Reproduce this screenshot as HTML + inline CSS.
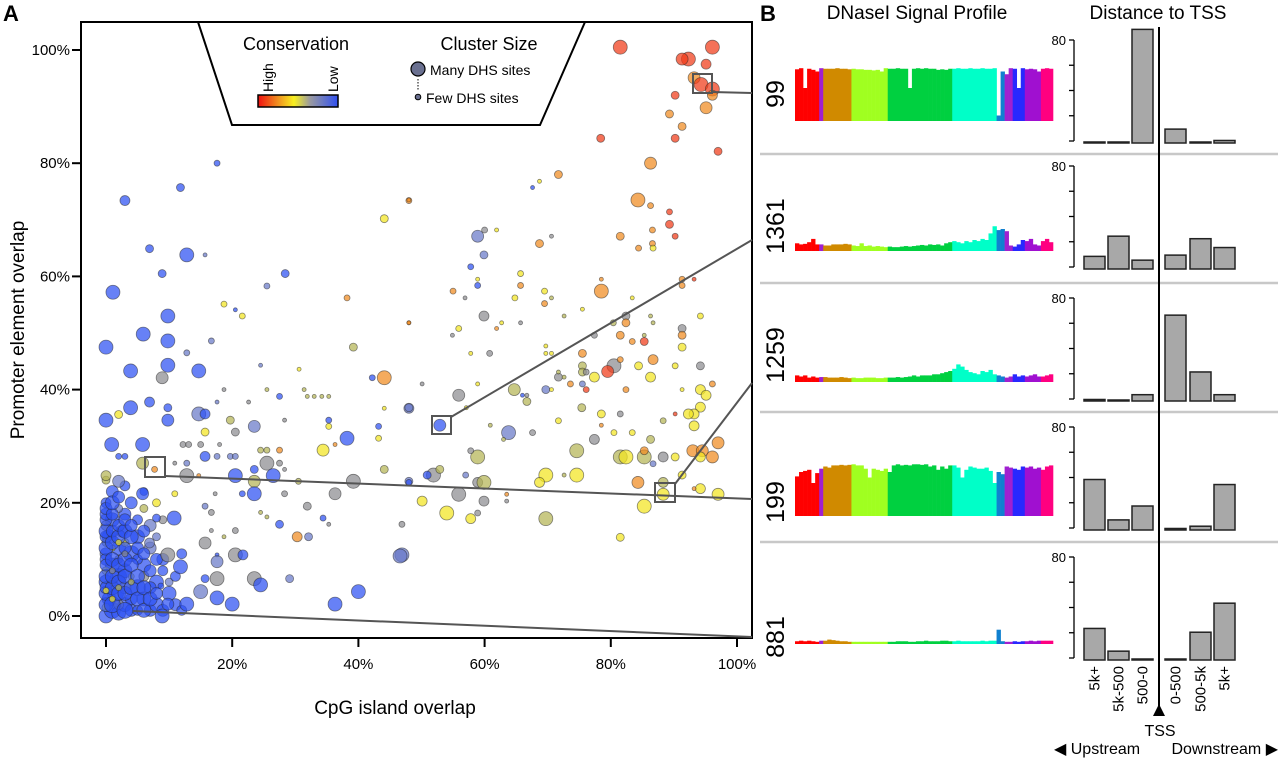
<!DOCTYPE html>
<html><head><meta charset="utf-8">
<style>
html,body{margin:0;padding:0;background:#fff;}
svg{display:block;font-family:"Liberation Sans",Arial,sans-serif;}
</style></head>
<body>
<svg id="fig" width="1280" height="758" viewBox="0 0 1280 758" xmlns="http://www.w3.org/2000/svg">
  <text x="3" y="21" font-size="22" font-weight="bold">A</text>
  <text x="760" y="21" font-size="22" font-weight="bold">B</text>
  <g id="scatter"></g>
  <rect x="81" y="22" width="671" height="616" fill="none" stroke="#000" stroke-width="2"/>
  <g id="axes"></g>
  <text x="395" y="714" font-size="19" text-anchor="middle">CpG island overlap</text>
  <text transform="translate(24,330) rotate(-90)" font-size="19" text-anchor="middle">Promoter element overlap</text>
  <g>
    <polygon points="198,22 585,22 540,125 232,125" fill="#fff" stroke="#000" stroke-width="2"/>
    <text x="296" y="50" font-size="18" text-anchor="middle">Conservation</text>
    <text transform="translate(273,92) rotate(-90)" font-size="14">High</text>
    <text transform="translate(338,92) rotate(-90)" font-size="14">Low</text>
    <defs><linearGradient id="cg" x1="0" x2="1" y1="0" y2="0">
      <stop offset="0" stop-color="#f01010"/><stop offset="0.25" stop-color="#f09020"/><stop offset="0.45" stop-color="#f8f020"/><stop offset="0.65" stop-color="#9a9aa0"/><stop offset="1" stop-color="#3050f0"/></linearGradient></defs>
    <rect x="258" y="95" width="80" height="12" fill="url(#cg)" stroke="#000" stroke-width="1.5"/>
    <text x="489" y="50" font-size="18" text-anchor="middle">Cluster Size</text>
    <circle cx="418" cy="69" r="7" fill="#6a7090" stroke="#000" stroke-width="1.2"/>
    <text x="430" y="75" font-size="14">Many DHS sites</text>
    <line x1="418" y1="79" x2="418" y2="91" stroke="#000" stroke-dasharray="1.5,1.5"/>
    <circle cx="418" cy="97" r="2.8" fill="#6a7090" stroke="#000" stroke-width="1"/>
    <text x="426" y="103" font-size="14">Few DHS sites</text>
  </g>
  <g id="connectors"></g>
  <g id="panelB"></g>
  <text x="917" y="19" font-size="19" text-anchor="middle">DNaseI Signal Profile</text>
  <text x="1158" y="19" font-size="19" text-anchor="middle">Distance to TSS</text>
</svg>
<script>
// ---------- Panel A data ----------
const xTicks = [0, 20, 40, 60, 80, 100];
const yTicks = [0, 20, 40, 60, 80, 100];
const colorCodes = ["#f03a18", "#f08a20", "#f2e420", "#b4b454", "#8c8c90", "#6878c8", "#2c50f2"];
// each point: [CpG %, promoter %, radius, conservation class]
const points = [
[0,0,7,6],[1,1,8,6],[2,0.5,7,6],[0.5,3,7,6],[1.5,4,8,6],[3,2,7,6],[4,1,6,6],[0,6,7,6],[2,7,8,6],[1,9,7,6],[3,8,7,6],[5,5,8,6],[6,3,7,6],[7,1,6,6],[0,11,6,6],[2,12,7,6],[4,11,8,6],[6,9,7,6],[8,6,7,6],[0.5,14,7,6],[2.5,15,6,6],[1,17,7,6],[3,18,6,6],[0,20,5,6],[5,14,7,6],[7,12,6,5],[9,10,6,6],[10,4,7,6],[11,2,6,6],[8,2,7,6],[3,5,6,4],[1,6,4,3],[0,8,4,2],[4,7,3,2],[2,10,4,4],[6,7,5,4],[0,13,4,3],[3,13,4,2],[5,17,5,6],[7,16,6,5],[4,20,6,6],[1,22,6,6],[0,16,5,4],[6,19,4,3],[8,14,4,5],[2,2,5,4],[0,1.5,4,2],[1,12,3,2],[9,8,5,6],[10,6,4,5],[5,10,5,6],[3,23,5,6],[6,22,4,6],[8,20,4,2],[9,17,4,4],[0,24,4,3],[2,19,4,5],[7,5,6,6],[4,3,6,6],[0,10,6,6],[5,1,5,6],[9,1,6,6],[12,1,5,6],[11,7,5,6],[12,11,5,6],
[0,2,7,6],[0,4,7,6],[0,5,6,6],[0,7,7,6],[0,9,6,6],[0,12,7,6],[0,14,6,6],[0,15,7,6],[0,17,6,6],[0,18,6,6],[0,19,6,6],[1,2,8,6],[1,5,7,6],[1,7,7,6],[1,10,7,6],[1,13,7,6],[1,15,6,6],[1,18,6,6],[1,20,7,6],[2,4,7,6],[2,6,7,6],[2,9,7,6],[2,14,7,6],[2,16,6,6],[2,21,6,6],[3,1,8,6],[3,4,7,6],[3,7,7,6],[3,10,7,6],[3,12,6,6],[3,15,7,6],[3,17,6,6],[4,5,7,6],[4,9,7,6],[4,14,7,6],[4,16,6,6],[5,3,7,6],[5,7,7,6],[5,12,6,6],[6,1,7,6],[6,5,7,6],[6,11,6,6],[6,15,6,6],[7,3,7,6],[7,8,6,6],[8,4,6,6],[8,10,6,6],[1,3,3,2],[2,5,3,3],[0,4.5,3,2],[1,8,3,4],[2,13,3,2],[4,6,3,3],[3,11,3,4],
[17.6,80,3,6],[11.8,75.7,4,6],[3,73.4,5,6],[6.9,64.9,4,6],[12.8,63.8,7,6],[15.7,63.8,2,5],[8.9,60.5,4,6],[28.4,60.5,4,6],[25.5,58.3,3,5],[1.1,57.2,7,6],[18.7,55.1,3,2],[20.5,54.1,2,6],[21.6,53,3,2],[9.8,53,7,6],[5.9,49.8,7,6],[0,47.5,7,6],[9.8,48.6,7,6],[12.8,46.5,3,5],[16.7,48.6,3,5],[3.9,43.3,7,6],[9.8,44.3,7,6],[14.7,43.3,7,6],[8.9,42.1,6,4],[24.5,44.3,2,5],[30.6,43.6,2,2],[38.2,56.2,3,1],[48,73.4,3,1],[48,51.8,2,1],[44.1,70.2,4,2],[39.2,47.5,4,3],[44.1,42.1,7,1],[42.2,42.1,3,6],[48,36.7,5,5],[44.1,36.7,2,2],[43.2,33.5,3,6],[43.2,31.4,3,2],[38.2,31.4,7,6],[34.4,29.3,6,2],[36.3,30.3,2,1],[35.3,34.6,3,6],[35.3,33.5,3,2],[27.5,38.8,3,6],[31.4,40,2,3],[31.9,38.8,2,3],[33,38.8,2,3],[34.2,38.8,2,3],[35.3,38.8,2,3],[18.7,40,2,4],[25.5,40,2,3],[22.6,37.8,2,4],[17.6,37.8,2,5],[3.9,36.8,7,6],[6.9,37.8,5,6],[9.8,36.8,4,6],[14.7,35.7,7,5],[15.7,35.7,5,6],[0,34.6,7,6],[2,35.6,4,2],[9.8,34.6,6,6],[19.7,34.6,4,3],[23.5,33.5,6,5],[28.3,34.6,2,4],[15.7,32.5,4,2],[20.5,32.5,4,4],[0.9,30.3,7,6],[5.8,30.3,7,6],[12.2,30.3,3,4],[13.1,30.3,3,4],[15,30.3,3,4],[18,30.3,2,4],[15.7,28.2,5,6],[3,28.2,3,6],[2,28.2,3,6],[5.8,27,6,3],[7.7,25.9,3,1],[12.8,27,3,5],[10.9,27,2,4],[17.6,28.2,3,5],[19.7,28.2,3,5],[20.5,28.2,3,5],[25.5,27,7,4],[27.5,27,3,4],[24.5,29.3,3,3],[25.5,29.3,3,3],[27.5,29.3,3,1],[0,24.8,5,3],[2,23.8,6,5],[12.8,24.8,7,4],[14.7,24.8,2,1],[20.5,24.8,7,6],[23.5,25.9,4,6],[26.5,24.8,7,6],[28.3,25.9,2,4],[23.5,23.8,6,3],[30.5,23.8,3,3],[39.2,23.8,7,4],[44.1,25.9,4,3],[48,23.8,4,5],[23.5,21.6,7,6],[21.6,21.6,3,6],[28.3,21.6,3,4],[36.3,21.6,6,4],[17.3,21.6,2,4],[10.9,21.6,3,2],[5.8,21.6,6,6],[31.9,19.4,4,4],[15.7,19.4,3,5],[16.7,18.3,3,4],[24.5,18.3,2,3],[25.5,17.5,2,3],[10.8,17.3,7,6],[8,17.3,4,6],[34.4,17.3,3,6],[35.3,16.2,2,4],[46.9,16.2,3,4],[27.5,16.2,4,6],[20.5,15.1,3,4],[16.7,15.1,2,4],[30.3,14,5,1],[32.1,14,4,5],[18.7,14,2,3],[15.7,12.9,6,4],[6.9,12.9,5,5],[20.5,10.8,7,4],[21.7,10.8,5,6],[17.6,10.8,2,6],[11.8,8.7,7,6],[9.8,10.8,7,4],[17.6,9.6,6,5],[46.9,10.8,7,5],[17.6,6.6,7,4],[15.7,6.6,4,6],[23.5,6.6,7,4],[24.5,5.5,7,6],[29.1,6.6,4,5],[15,4.3,7,5],[40,4.3,7,6],[36.3,2.1,7,6],[20,2.1,7,6],[17.6,3.2,7,6],[12.8,2.1,7,6],[8.9,0,7,6],[9.8,2.1,6,6],[8.7,5.3,3,6],
[81.5,100.5,7,0],[96.1,100.5,7,0],[92.3,98.4,7,0],[91.3,98.4,6,0],[95.1,97.5,5,0],[93.2,95.1,6,1],[94.3,93.9,7,0],[96.1,93.1,7,0],[96.1,92,5,1],[95.1,89.8,6,1],[90.2,92,4,0],[89.3,88.7,4,1],[91.3,86.5,4,1],[90.2,84.4,4,0],[97,82.1,4,0],[78.4,84.4,4,0],[86.3,80,6,1],[84.3,73.5,7,1],[86.3,72.5,3,1],[89.3,71.4,3,0],[89.3,69.2,4,0],[71.7,78,4,1],[68.7,76.8,2,2],[67.6,75.7,2,6],[48,73.5,2,1],[86.6,68.2,3,1],[86.6,65.8,3,1],[90.2,67.1,3,0],[81.5,67.1,4,1],[84.4,65,3,1],[86.7,65,3,2],[58.9,67.1,6,5],[60,68.2,3,4],[61.9,68.2,2,2],[70.6,67.1,2,4],[68.7,65.8,4,1],[59.9,63.8,4,5],[57.8,61.7,3,6],[58.9,59.5,2,2],[58.9,58.4,3,6],[55,57.4,3,1],[56.9,56.2,2,4],[65.7,60.5,3,2],[65.7,58.4,3,1],[64.8,56.2,3,2],[69.5,57.4,3,2],[69.5,55.2,3,1],[70.6,56.2,2,3],[78.5,59.5,2,1],[78.5,57.4,7,1],[83.4,56.2,2,2],[91.3,59.5,3,1],[91.3,58.4,3,1],[93.2,59.5,2,0],[75.5,54.2,2,2],[72.6,53,2,3],[59.9,53,5,4],[48,51.8,2,1],[65.7,51.8,2,4],[61.9,50.8,2,1],[55.9,50.8,3,2],[54.9,49.6,2,4],[62.7,51.8,2,2],[82.4,53,4,4],[82.4,51.8,4,1],[80.4,51.8,3,3],[86.3,53,2,3],[86.7,51.8,2,3],[94.2,53,3,2],[91.3,50.8,4,4],[91.3,49.6,4,1],[81.5,49.6,4,1],[83.4,48.5,3,1],[85.3,48.5,4,0],[85.3,49.6,2,3],[91.3,47.5,4,2],[77.4,49.6,3,4],[69.7,47.7,2,2],[69.7,46.4,2,2],[70.6,46.4,2,2],[75.5,46.4,4,1],[57.8,46.4,2,2],[60.8,46.4,3,4],[80.5,44.2,7,4],[79.5,43.2,6,0],[81.5,45.3,3,1],[84.4,44.2,4,2],[86.3,42.2,5,2],[86.7,45.3,5,1],[90.2,44.2,3,2],[94.2,44.2,4,4],[96.1,41,3,1],[75.5,44.2,4,3],[75.5,43.1,4,3],[76.1,43.1,3,4],[77.4,42.2,5,2],[71.7,42.2,4,4],[71.7,43.1,2,3],[72.6,42.2,2,3],[73.6,41,3,1],[75.5,41,3,5],[76.1,40,3,0],[69.7,40,4,5],[70.6,40,2,2],[82.4,40,3,1],[91.3,40,2,2],[94.2,40,5,2],[95.1,39,5,2],[94.2,36.9,5,2],[93.2,35.7,5,2],[92.3,35.7,5,2],[93.2,33.6,5,2],[55.9,39,6,4],[64.7,40,6,3],[66.7,37.9,4,3],[66,39,2,6],[66.7,39,2,4],[50.1,41,2,4],[58.9,41,2,2],[48,36.8,4,5],[57.1,36.8,2,2],[75.4,36.8,4,3],[78.5,35.7,4,2],[81.5,35.7,3,4],[71.7,34.5,3,2],[90.2,35.7,2,0],[88.3,34.5,3,3],[78.5,33.7,2,1],[80.5,32.4,3,2],[83.4,32.4,3,2],[77.4,31.2,5,4],[86.3,31.2,4,3],[67.6,32.4,3,4],[63.8,32.4,7,5],[63,31.2,2,3],[60.9,33.7,2,3],[52.9,33.7,6,6],[74.6,29.2,7,3],[81.5,28.1,7,3],[82.4,28.1,7,2],[85.3,28.1,7,3],[85.3,29.2,4,1],[88.3,28.1,5,4],[90.2,28.1,4,2],[93,29.2,6,1],[94.5,29.2,6,1],[96.1,28.1,6,1],[97,30.6,6,1],[94.2,28.1,5,2],[86.7,26.9,3,5],[91.3,24.9,4,2],[58.9,28.1,7,3],[57.8,29.2,3,4],[51.9,24.9,7,4],[52.9,25.9,4,3],[50.9,24.9,4,6],[48,23.6,3,6],[57,24.9,3,5],[58.9,23.6,5,4],[59.9,23.6,7,3],[69.7,24.9,7,2],[68.7,23.6,5,2],[74.6,24.9,7,2],[72.6,24.9,2,3],[84.3,23.6,6,1],[88.3,23.6,5,3],[88.3,21.5,6,2],[94.2,22.5,5,2],[93.2,22.5,2,1],[97,21.5,6,2],[50.1,20.3,5,2],[55.9,21.5,7,4],[59.9,20.3,5,4],[63.5,21.5,2,1],[63.5,20.3,2,4],[54,18.2,7,2],[57.8,17.2,5,2],[58.9,18.2,3,4],[69.7,17.2,7,3],[85.3,19.4,7,2],[81.5,13.9,4,2],[46.6,10.6,7,5]
];
// ---------- Panel B data ----------
const clusterIds = ["99", "1361", "1259", "199", "881"];
const distCategories = ["5k+", "5k-500", "500-0", "0-500", "500-5k", "5k+"];
const distValues = [
  [0.8, 0.8, 90, 11, 0.3, 2],
  [10, 26, 7, 11, 24, 17],
  [1.2, 0.6, 5, 68, 23, 5],
  [40, 8, 19, 1.2, 3, 36],
  [25, 7, 0.5, 0.5, 22, 45]
];
const profile99 = [94,96,60,95,93,90,96,95,95,95,96,95,95,94,95,94,94,93,93,92,93,90,96,95,95,96,95,95,60,95,96,95,96,95,95,93,94,93,95,95,96,95,95,96,95,95,96,95,95,96,10,90,85,96,95,60,96,94,95,94,90,95,96,95];
const profile1361 = [14,12,13,16,22,12,12,10,10,12,12,12,13,12,10,9,14,9,10,8,9,8,7,8,7,7,8,9,8,9,10,11,10,12,11,12,10,14,16,18,16,14,18,16,20,18,22,20,32,45,38,40,36,10,8,12,20,18,22,12,10,18,22,16];
const profile1259 = [12,10,12,8,10,8,9,9,8,8,8,9,8,7,8,7,7,8,8,8,7,7,8,8,8,9,8,9,10,12,10,12,12,12,14,14,16,18,20,24,32,28,22,18,16,14,20,18,22,14,12,10,8,10,14,10,12,10,12,14,10,10,12,14];
const profile199 = [72,80,82,84,60,78,86,90,88,92,92,93,92,93,94,92,92,86,70,86,84,82,86,80,92,94,92,93,92,94,94,93,94,90,92,84,90,86,92,92,88,70,84,90,88,86,86,88,82,60,80,76,90,88,86,84,90,88,90,86,88,84,90,92];
const profile881 = [5,6,5,6,5,4,6,6,8,7,6,5,5,4,4,4,4,4,4,4,4,4,4,4,4,5,5,5,4,4,5,5,6,5,5,5,6,6,5,5,6,5,5,5,5,5,6,5,6,6,26,5,4,4,5,4,5,5,6,5,6,6,6,6];
const profiles = [profile99, profile1361, profile1259, profile199, profile881];
const distTicks = [0, 20, 40, 60, 80];

const NS = "http://www.w3.org/2000/svg";
function mk(tag, attrs, parent){const e=document.createElementNS(NS,tag);for(const k in attrs)e.setAttribute(k,attrs[k]);parent.appendChild(e);return e;}

const xScale = v => 106 + v * 6.31;
const yScale = v => 616 - v * 5.66;

const sg = document.getElementById("scatter");
points.forEach(p => {
  const c = mk("circle", {cx: xScale(p[0]), cy: yScale(p[1]), r: p[2], fill: colorCodes[p[3]], "fill-opacity": 0.72, stroke: "rgba(40,40,40,0.55)", "stroke-width": 0.8}, sg);
  
  
});

const ag = document.getElementById("axes");
xTicks.forEach(t => {
  const l = mk("line", {x1: xScale(t), x2: xScale(t), y1: 638, y2: 647, stroke: "#000", "stroke-width": 2}, ag);
  
  
  const tx = mk("text", {x: xScale(t), y: 669, "font-size": 15, "text-anchor": "middle"}, ag);
  tx.textContent = t + "%";
  
  
});
yTicks.forEach(t => {
  const l = mk("line", {x1: 72, x2: 81, y1: yScale(t), y2: yScale(t), stroke: "#000", "stroke-width": 2}, ag);
  
  
  const tx = mk("text", {x: 70, y: yScale(t) + 5, "font-size": 15, "text-anchor": "end"}, ag);
  tx.textContent = t + "%";
  
  
});

const cg = document.getElementById("connectors");
const boxes = [[693,74,19,19],[432,416,19,18],[145,457,20,20],[655,483,20,19]];
boxes.forEach(b => {
  const r = mk("rect", {x: b[0], y: b[1], width: b[2], height: b[3], fill: "none", stroke: "#555", "stroke-width": 2}, cg);
  
  
});
const links = [[712,92,752,93],[451,417,752,240],[675,484,752,383],[165,476,752,499],[133,611,752,637]];
links.forEach(s => {
  const l = mk("line", {x1: s[0], y1: s[1], x2: s[2], y2: s[3], stroke: "#555", "stroke-width": 2}, cg);
  
  
});

const pb = document.getElementById("panelB");
[154, 283, 412, 542].forEach(y => {
  const l = mk("line", {x1: 760, x2: 1278, y1: y, y2: y, stroke: "#c8c8c8", "stroke-width": 2.5}, pb);
  
  
});
const segColors = [[0.089,"#ff0000"],[0.116,"#a020d0"],[0.221,"#d08a00"],[0.364,"#a0ff20"],[0.605,"#00d040"],[0.775,"#00ffc8"],[0.818,"#1080d0"],[0.841,"#a020d0"],[0.891,"#2828ff"],[0.953,"#a010d0"],[1.01,"#ff0080"]];
function segColor(f){for(const s of segColors) if(f < s[0]) return s[1]; return "#ff0080";}
const baselines = [121, 251, 382, 516, 644];
const labelY = [94, 226, 355, 502, 637];
const y80 = [40, 166, 298, 427, 557];
const profX0 = 795, profW = 258, profScale = 0.55;
const barX = [1084, 1108, 1132, 1165, 1190, 1214], barW = 21, barUnit = 101 / 80;

clusterIds.forEach((id, r) => {
  const t = mk("text", {transform: `translate(784,${labelY[r]}) rotate(-90)`, "font-size": 25, "text-anchor": "middle"}, pb);
  t.textContent = id;
  
  
  const prof = profiles[r];
  const bw = profW / prof.length;
  prof.forEach((v, i) => {
    const h = v * profScale;
    const rc = mk("rect", {x: profX0 + i * bw, y: baselines[r] - h, width: bw + 0.3, height: h, fill: segColor((i + 0.5) / prof.length)}, pb);
    
    
  });
  const ax = mk("line", {x1: 1074, x2: 1074, y1: y80[r], y2: y80[r] + 101, stroke: "#000", "stroke-width": 1.3}, pb);
  
  
  distTicks.forEach(tv => {
    const ty = y80[r] + 101 - tv * barUnit;
    const tk = mk("line", {x1: 1069, x2: 1074, y1: ty, y2: ty, stroke: "#000", "stroke-width": 1.3}, pb);
    
    
  });
  const lab = mk("text", {x: 1066, y: y80[r] + 5, "font-size": 13, "text-anchor": "end"}, pb);
  lab.textContent = "80";
  
  
  const zero = y80[r] + 103;
  distValues[r].forEach((v, i) => {
    const h = Math.max(v * barUnit, 1);
    const b = mk("rect", {x: barX[i], y: zero - h, width: barW, height: h, fill: "#a8a8a8", stroke: "#222", "stroke-width": 1.5}, pb);
    
    
  });
});
distCategories.forEach((c, i) => {
  const t = mk("text", {transform: `translate(${barX[i] + barW / 2 + 5},666) rotate(-90)`, "font-size": 15, "text-anchor": "end"}, pb);
  t.textContent = c;
  
  
});
const tss = mk("line", {x1: 1159, x2: 1159, y1: 27, y2: 708, stroke: "#000", "stroke-width": 2}, pb);


const tri = mk("polygon", {points: "1159,704 1153,716 1165,716", fill: "#000"}, pb);


const tssT = mk("text", {x: 1160, y: 736, "font-size": 16, "text-anchor": "middle"}, pb);
tssT.textContent = "TSS";


const up = mk("text", {x: 1054, y: 754, "font-size": 16}, pb);
up.textContent = "◀ Upstream";


const down = mk("text", {x: 1278, y: 754, "font-size": 16, "text-anchor": "end"}, pb);
down.textContent = "Downstream ▶";


</script>
</body></html>
